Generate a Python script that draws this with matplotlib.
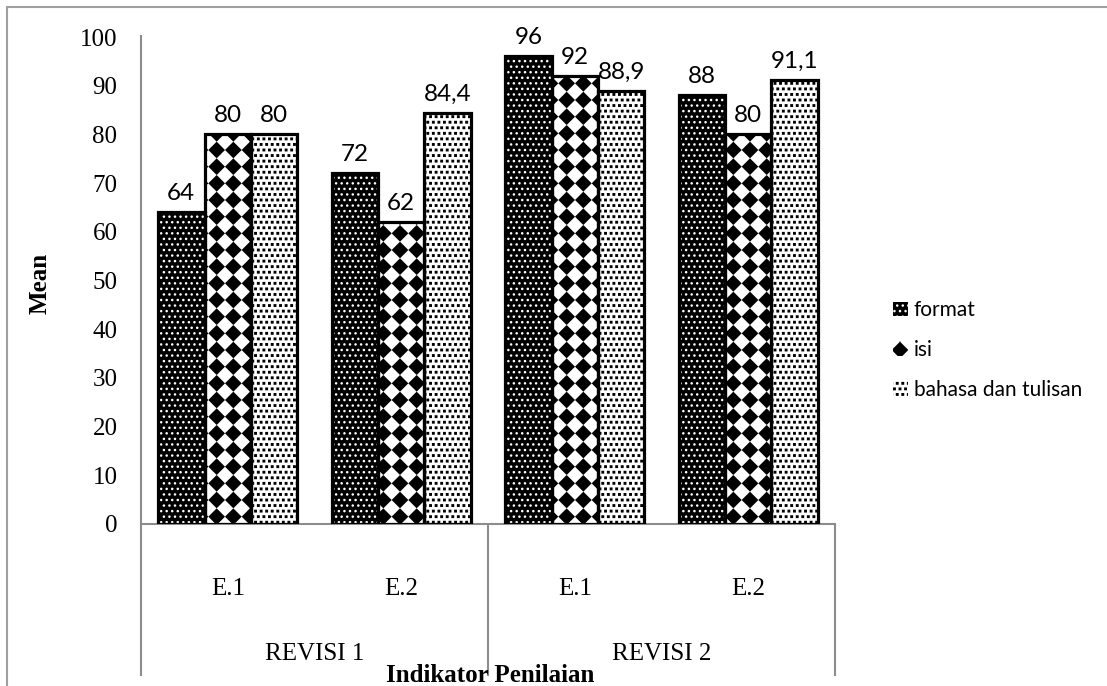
import numpy as np
import matplotlib
matplotlib.use('Agg')
import matplotlib.pyplot as plt
import matplotlib.hatch as mhatch
import matplotlib.transforms as mtrans
from matplotlib.path import Path
from matplotlib.patches import Rectangle

# ---------------- data ----------------
groups = ['REVISI 1', 'REVISI 2']
subcats = ['E.1', 'E.2', 'E.1', 'E.2']
series_names = ['format', 'isi', 'bahasa dan tulisan']
format_vals = [64, 72, 96, 88]
isi_vals = [80, 62, 92, 80]
bahasa_vals = [80, 84.4, 88.9, 91.1]
yticks = list(range(0, 101, 10))

HLW = 1.0
plt.rcParams['hatch.linewidth'] = HLW

SQ = np.array([Path.MOVETO, Path.LINETO, Path.LINETO,
               Path.LINETO, Path.CLOSEPOLY], dtype=Path.code_type)


# custom hatch: square grid of filled diamonds (rotated checkerboard) for '*'
class DiamondGrid(mhatch.HatchPatternBase):
    def __init__(self, hatch, density):
        self.n = hatch.count('*') * density
        self.num_vertices = 0 if self.n == 0 else (self.n + 1) ** 2 * 5

    def set_vertices_and_codes(self, vertices, codes):
        n = self.n
        h = 0.5 / n - 0.5 * np.sqrt(2) * HLW / 72.0
        shape = np.array([[0, -h], [h, 0], [0, h], [-h, 0], [0, -h]])
        vparts, cparts = [], []
        for i in range(n + 1):
            for j in range(n + 1):
                vparts.append(shape + [i / n, j / n])
                cparts.append(SQ)
        np.concatenate(vparts, out=vertices)
        np.concatenate(cparts, out=codes)


# custom hatch: staggered small filled squares for 'o'
class SquareDots(mhatch.HatchPatternBase):
    def __init__(self, hatch, density):
        self.n = hatch.count('o') * density
        if self.n == 0:
            self.num_vertices = 0
        else:
            cnt = 0
            for r in range(self.n + 1):
                cnt += (self.n + 1) if r % 2 == 0 else self.n
            self.num_vertices = cnt * 5

    def set_vertices_and_codes(self, vertices, codes):
        n = self.n
        h = 0.0075
        shape = np.array([[-h, -h], [h, -h], [h, h], [-h, h], [-h, -h]])
        off = 1.0 / n
        vparts, cparts = [], []
        for r in range(n + 1):
            if r % 2 == 0:
                cols = np.linspace(0, 1, n + 1)
            else:
                cols = np.linspace(off / 2, 1 - off / 2, n)
            for c in cols:
                vparts.append(shape + [c, r * off])
                cparts.append(SQ)
        np.concatenate(vparts, out=vertices)
        np.concatenate(cparts, out=codes)


mhatch._hatch_types = [t for t in mhatch._hatch_types
                       if t.__name__ not in ('Stars', 'SmallCircles')] + \
    [DiamondGrid, SquareDots]

W, H = 1107, 686
fig = plt.figure(figsize=(W / 100, H / 100), dpi=100)

ax_left, ax_right, ax_bottom, ax_top = 141, 835, 524, 37
ax = fig.add_axes([ax_left / W, 1 - ax_bottom / H,
                   (ax_right - ax_left) / W, (ax_bottom - ax_top) / H])
ax_h = ax_bottom - ax_top

serif = 'Liberation Serif'
sans = 'Lato'

styles = [
    dict(face='black', hcol='white', hatch='...'),
    dict(face='white', hcol='black', hatch='*'),
    dict(face='white', hcol='black', hatch='ooo'),
]
series = [format_vals, isi_vals, bahasa_vals]
x = np.arange(len(subcats)) + 0.5
bw = 0.268
offsets = [-bw, 0, bw]

for vals, st, off in zip(series, styles, offsets):
    ax.bar(x + off, vals, bw, color=st['face'], edgecolor=st['hcol'],
           hatch=st['hatch'], linewidth=0, zorder=2)
for vals, st, off in zip(series, styles, offsets):
    ax.bar(x + off, vals, bw, fill=False, edgecolor='black',
           linewidth=2.3, zorder=3)
    for xi, v in zip(x + off, vals):
        ax.annotate(f"{v:g}".replace('.', ','), (xi, v),
                    xytext=(0, 6), textcoords='offset points',
                    ha='center', va='bottom', fontsize=17.5, family=sans)

ax.set_xlim(0, len(subcats))
ax.set_ylim(0, 100)
ax.set_yticks(yticks)
ax.set_yticklabels([str(t) for t in yticks], fontsize=18, family=serif)
ax.tick_params(axis='y', length=0, pad=17)
ax.set_xticks([])
for s in ['top', 'right', 'left']:
    ax.spines[s].set_visible(False)
ax.spines['bottom'].set_color('#8c8c8c')
ax.spines['bottom'].set_linewidth(1.5)

gray = '#8c8c8c'
y_low = -(676 - ax_bottom) / ax_h
ax.plot([0, 0], [y_low, (ax_bottom - 35) / ax_h], transform=ax.transAxes,
        color=gray, lw=1.5, clip_on=False, solid_capstyle='butt')
for xs in [0.5, 1.0]:
    ax.plot([xs, xs], [y_low, 0], transform=ax.transAxes, color=gray, lw=1.5,
            clip_on=False, solid_capstyle='butt')

trans = mtrans.blended_transform_factory(ax.transData, ax.transAxes)
for xi, lab in zip(x, subcats):
    ax.text(xi, -(589 - ax_bottom) / ax_h, lab, transform=trans, ha='center',
            va='center', fontsize=18, family=serif)
for gi, g in enumerate(groups):
    ax.text(1 + 2 * gi, -(654 - ax_bottom) / ax_h, g, transform=trans,
            ha='center', va='center', fontsize=18, family=serif)

fig.text(490 / W, 1 - 676 / H, 'Indikator Penilaian', ha='center',
         va='center', fontsize=18, family=serif, fontweight='bold')
fig.text(40 / W, 1 - 283 / H, 'Mean', ha='center', va='center', rotation=90,
         fontsize=18, family=serif, fontweight='bold')

# legend
handles = [Rectangle((0, 0), 1, 1, facecolor=st['face'], edgecolor=st['hcol'],
                     hatch=st['hatch'], linewidth=0) for st in styles]
leg = fig.legend(handles, series_names, loc='center left',
                 bbox_to_anchor=(893 / W, 1 - 350 / H), frameon=False,
                 borderpad=0, borderaxespad=0, handlelength=0.7,
                 handleheight=0.7, handletextpad=0.3, labelspacing=0.95,
                 prop={'family': sans, 'size': 15})

# outer border
fig.add_artist(Rectangle((7 / W, -0.5), 2, 1 - 7 / H + 0.5,
                         transform=fig.transFigure, fill=False,
                         edgecolor='#a0a0a0', linewidth=1.5))

fig.savefig('out.png', dpi=100)
